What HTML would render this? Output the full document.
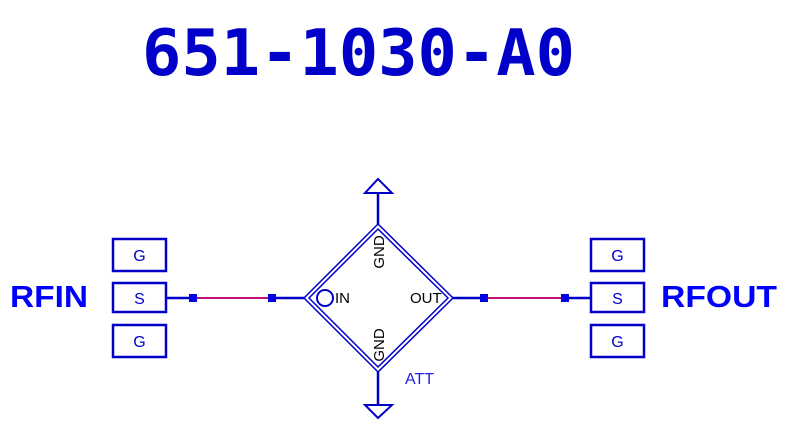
<!DOCTYPE html>
<html><head><style>
html,body{margin:0;padding:0;background:#fff;width:795px;height:443px;overflow:hidden}
</style></head><body>
<svg width="795" height="443" xmlns="http://www.w3.org/2000/svg">
<text x="142" y="75" font-family="DejaVu Sans Mono, Liberation Mono, monospace" font-weight="bold" font-size="64" fill="#0000c8" textLength="433" lengthAdjust="spacingAndGlyphs">651-1030-A0</text>
<g fill="none" stroke="#0000c8" stroke-width="2.5">
<rect x="113" y="239" width="53" height="32"/>
<rect x="113" y="283" width="53" height="29"/>
<rect x="113" y="325" width="53" height="32"/>
<rect x="591" y="239" width="53" height="32"/>
<rect x="591" y="283" width="53" height="29"/>
<rect x="591" y="325" width="53" height="32"/>
<line x1="166" y1="298" x2="193" y2="298"/>
<line x1="272" y1="298" x2="304" y2="298"/>
<line x1="453" y1="298" x2="484" y2="298"/>
<line x1="565" y1="298" x2="591" y2="298"/>
<line x1="378" y1="193" x2="378" y2="224"/>
<line x1="378" y1="372" x2="378" y2="405"/>
<polygon points="365,193 392,193 378,179" stroke-width="2"/>
<polygon points="365,405 392,405 378,418" stroke-width="2"/>
<polygon points="378,224 453,298 378,372 304,298" stroke-width="1.5"/>
<polygon points="378,229 448,298 378,367 309,298" stroke-width="1.5"/>
<circle cx="325" cy="298" r="8" stroke-width="2"/>
</g>
<g stroke="#c0107a" stroke-width="2"><line x1="193" y1="298" x2="272" y2="298"/><line x1="484" y1="298" x2="565" y2="298"/></g>
<g fill="#0000e0"><rect x="189" y="294" width="8" height="8"/><rect x="268" y="294" width="8" height="8"/><rect x="480" y="294" width="8" height="8"/><rect x="561" y="294" width="8" height="8"/></g>
<g font-family="Liberation Sans, sans-serif" font-size="16" fill="#0000c8" text-anchor="middle">
<text x="139.5" y="261">G</text><text x="139.5" y="304">S</text><text x="139.5" y="347">G</text>
<text x="617.5" y="261">G</text><text x="617.5" y="304">S</text><text x="617.5" y="347">G</text>
</g>
<g font-family="Liberation Sans, sans-serif" font-size="15" fill="#000">
<text x="335" y="303">IN</text>
<text x="410" y="303">OUT</text>
<text transform="translate(384,252) rotate(-90)" text-anchor="middle">GND</text>
<text transform="translate(384,345) rotate(-90)" text-anchor="middle">GND</text>
</g>
<text x="405" y="384" font-family="Liberation Sans, sans-serif" font-size="16" fill="#2020e0">ATT</text>
<g font-family="Liberation Sans, sans-serif" font-weight="bold" font-size="31" fill="#0000ff">
<text x="10" y="307" textLength="78" lengthAdjust="spacingAndGlyphs">RFIN</text>
<text x="661" y="307" textLength="116" lengthAdjust="spacingAndGlyphs">RFOUT</text>
</g>
</svg>
</body></html>
